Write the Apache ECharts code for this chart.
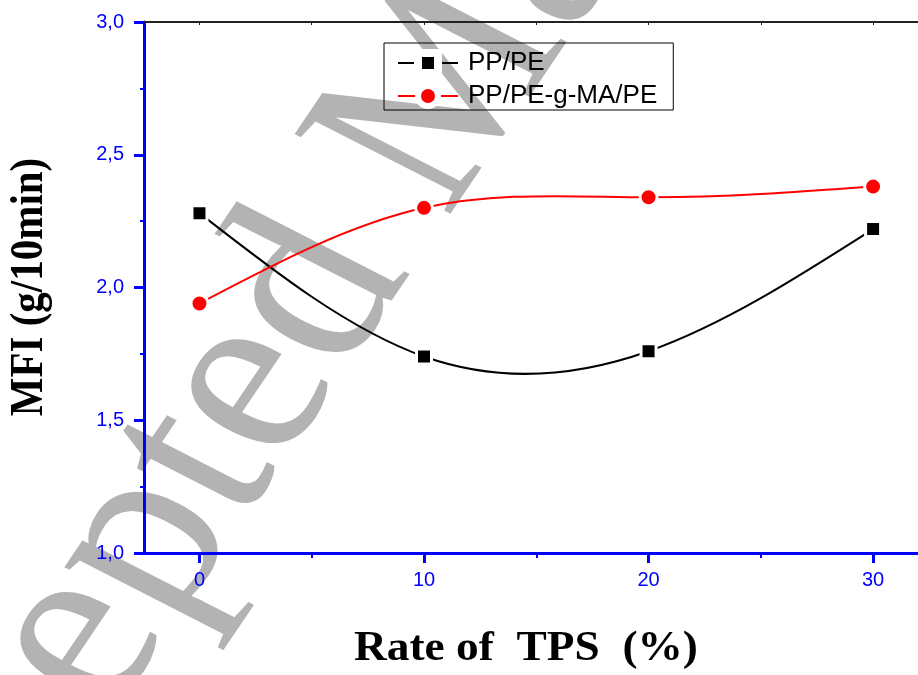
<!DOCTYPE html>
<html>
<head>
<meta charset="utf-8">
<script src="https://cdn.jsdelivr.net/npm/echarts@6/dist/echarts.min.js"></script>
<style>html,body{margin:0;padding:0;background:#fff}#chart{width:918px;height:675px}</style>
</head>
<body>
<div id="chart"></div>
<script>
var tpsRates = [0, 10, 20, 30];
var mfiPPPE = [2.28, 1.74, 1.76, 2.22];
var mfiPPPEgMA = [1.94, 2.30, 2.34, 2.38];
var seriesNames = ['PP/PE', 'PP/PE-g-MA/PE'];
var xTickLabels = [0, 10, 20, 30];
var xMinorTicks = [5, 15, 25];
var xTopTicks = [0, 5, 10, 15, 20, 25, 30];

var BLUE = '#0000ff';
var chart = echarts.init(document.getElementById('chart'));

function pairs(xs, ys) { return xs.map(function (x, i) { return [x, ys[i]]; }); }

// Natural cubic spline through pixel points -> bezier segments (rendering only)
function splineSegments(pts) {
  var n = pts.length, h = [], M = new Array(n).fill(0);
  for (var i = 0; i < n - 1; i++) h.push(pts[i + 1][0] - pts[i][0]);
  if (n > 2) {
    var a = [], b = [], c = [], d = [];
    for (var k = 1; k < n - 1; k++) {
      a.push(h[k - 1]); b.push(2 * (h[k - 1] + h[k])); c.push(h[k]);
      d.push(6 * ((pts[k + 1][1] - pts[k][1]) / h[k] - (pts[k][1] - pts[k - 1][1]) / h[k - 1]));
    }
    var m = b.length;
    for (var j = 1; j < m; j++) {
      var w = a[j] / b[j - 1];
      b[j] -= w * c[j - 1]; d[j] -= w * d[j - 1];
    }
    var sol = new Array(m);
    sol[m - 1] = d[m - 1] / b[m - 1];
    for (var j2 = m - 2; j2 >= 0; j2--) sol[j2] = (d[j2] - c[j2] * sol[j2 + 1]) / b[j2];
    for (var q = 0; q < m; q++) M[q + 1] = sol[q];
  }
  var segs = [];
  for (var s = 0; s < n - 1; s++) {
    var hh = h[s], dy = pts[s + 1][1] - pts[s][1];
    var s0 = dy / hh - hh * (2 * M[s] + M[s + 1]) / 6;
    var s1 = dy / hh + hh * (M[s] + 2 * M[s + 1]) / 6;
    segs.push({
      x1: pts[s][0], y1: pts[s][1],
      cpx1: pts[s][0] + hh / 3, cpy1: pts[s][1] + s0 * hh / 3,
      cpx2: pts[s + 1][0] - hh / 3, cpy2: pts[s + 1][1] - s1 * hh / 3,
      x2: pts[s + 1][0], y2: pts[s + 1][1]
    });
  }
  return segs;
}

function splineRenderer(xs, ys, color) {
  return function (params, api) {
    if (params.dataIndex >= xs.length - 1) return null;
    var pts = xs.map(function (x, i) { return api.coord([x, ys[i]]); });
    var seg = splineSegments(pts)[params.dataIndex];
    return {
      type: 'bezierCurve',
      shape: seg,
      style: { stroke: color, lineWidth: 2, fill: null }
    };
  };
}

var option = {
  animation: false,
  backgroundColor: '#fff',
  grid: { left: 144, right: 0, top: 22, bottom: 122 },
  xAxis: [
    {
      type: 'value', position: 'bottom', min: -2.47, max: 32,
      axisLine: { show: true, onZero: false, lineStyle: { color: BLUE, width: 3 } },
      axisTick: { show: true, customValues: xTickLabels, length: 10, lineStyle: { color: BLUE, width: 3 } },
      axisLabel: { show: true, customValues: xTickLabels, color: BLUE, fontSize: 20, fontFamily: 'Liberation Sans', margin: 17 },
      splitLine: { show: false }
    },
    {
      type: 'value', position: 'top', min: -2.47, max: 32,
      axisLine: { show: true, onZero: false, lineStyle: { color: '#222', width: 2 } },
      axisTick: { show: true, inside: true, customValues: xTopTicks, length: 3, lineStyle: { color: '#222', width: 1 } },
      axisLabel: { show: false },
      splitLine: { show: false }
    },
    {
      type: 'value', position: 'bottom', min: -2.47, max: 32,
      axisLine: { show: false },
      axisTick: { show: true, customValues: xMinorTicks, length: 5, lineStyle: { color: BLUE, width: 2 } },
      axisLabel: { show: false },
      splitLine: { show: false }
    }
  ],
  yAxis: {
    type: 'value', min: 1, max: 3, interval: 0.5,
    axisLine: { show: true, onZero: false, lineStyle: { color: BLUE, width: 3 } },
    axisTick: { show: true, length: 10, lineStyle: { color: BLUE, width: 3 } },
    minorTick: { show: true, splitNumber: 2, length: 4, lineStyle: { color: BLUE, width: 2 } },
    axisLabel: {
      color: BLUE, fontSize: 20, fontFamily: 'Liberation Sans', margin: 20,
      formatter: function (v) { return v.toFixed(1).replace('.', ','); }
    },
    splitLine: { show: false }
  },
  legend: {
    left: 384, top: 43,
    orient: 'vertical',
    data: [
      { name: seriesNames[0], itemStyle: { borderColor: '#fff', borderWidth: 8 }, lineStyle: { color: '#000', width: 2, opacity: 1 } },
      { name: seriesNames[1], itemStyle: { borderColor: '#fff', borderWidth: 6 }, lineStyle: { color: '#ff0000', width: 2, opacity: 1 } }
    ],
    itemWidth: 60, itemHeight: 25, itemGap: 6,
    padding: [6, 16, 1, 13],
    borderColor: '#000', borderWidth: 1,
    textStyle: { fontSize: 26, lineHeight: 25, fontFamily: 'Liberation Sans', color: '#000', padding: [0, 0, 0, 5] }
  },
  graphic: [
    {
      type: 'group', scaleX: 1.15, z: -10,
      children: [{
        type: 'text', z: -10, x: 366, y: 133, rotation: 1.039,
        style: { text: 'Accepted Manuscript', font: 'normal 240px "Liberation Serif"', fill: '#b3b3b3', textAlign: 'center', textVerticalAlign: 'middle' }
      }]
    },
    {
      type: 'text', x: 30, y: 287, rotation: Math.PI / 2, scaleY: 1.15,
      style: { text: 'MFI (g/10min)', font: 'bold 41px "Liberation Serif"', fill: '#000', textAlign: 'center', textVerticalAlign: 'middle' }
    },
    {
      type: 'text', x: 526, y: 649, scaleX: 1.08,
      style: { text: 'Rate of  TPS  (%)', font: 'bold 42px "Liberation Serif"', fill: '#000', textAlign: 'center', textVerticalAlign: 'middle' }
    }
  ],
  series: [
    {
      name: seriesNames[0], type: 'line', z: 4,
      data: pairs(tpsRates, mfiPPPE),
      symbol: 'rect', symbolSize: 15,
      itemStyle: { color: '#000', borderColor: '#fff', borderWidth: 3 },
      lineStyle: { color: '#000', width: 2, opacity: 0 }
    },
    {
      name: seriesNames[1], type: 'line', z: 4,
      data: pairs(tpsRates, mfiPPPEgMA),
      symbol: 'circle', symbolSize: 17,
      itemStyle: { color: '#ff0000', borderColor: '#fff', borderWidth: 3 },
      lineStyle: { color: '#ff0000', width: 2, opacity: 0 }
    },
    {
      name: seriesNames[0], type: 'custom', z: 2, clip: true,
      data: pairs(tpsRates, mfiPPPE),
      renderItem: splineRenderer(tpsRates, mfiPPPE, '#000')
    },
    {
      name: seriesNames[1], type: 'custom', z: 2, clip: true,
      data: pairs(tpsRates, mfiPPPEgMA),
      renderItem: splineRenderer(tpsRates, mfiPPPEgMA, '#ff0000')
    }
  ]
};
chart.setOption(option);
</script>
</body>
</html>
